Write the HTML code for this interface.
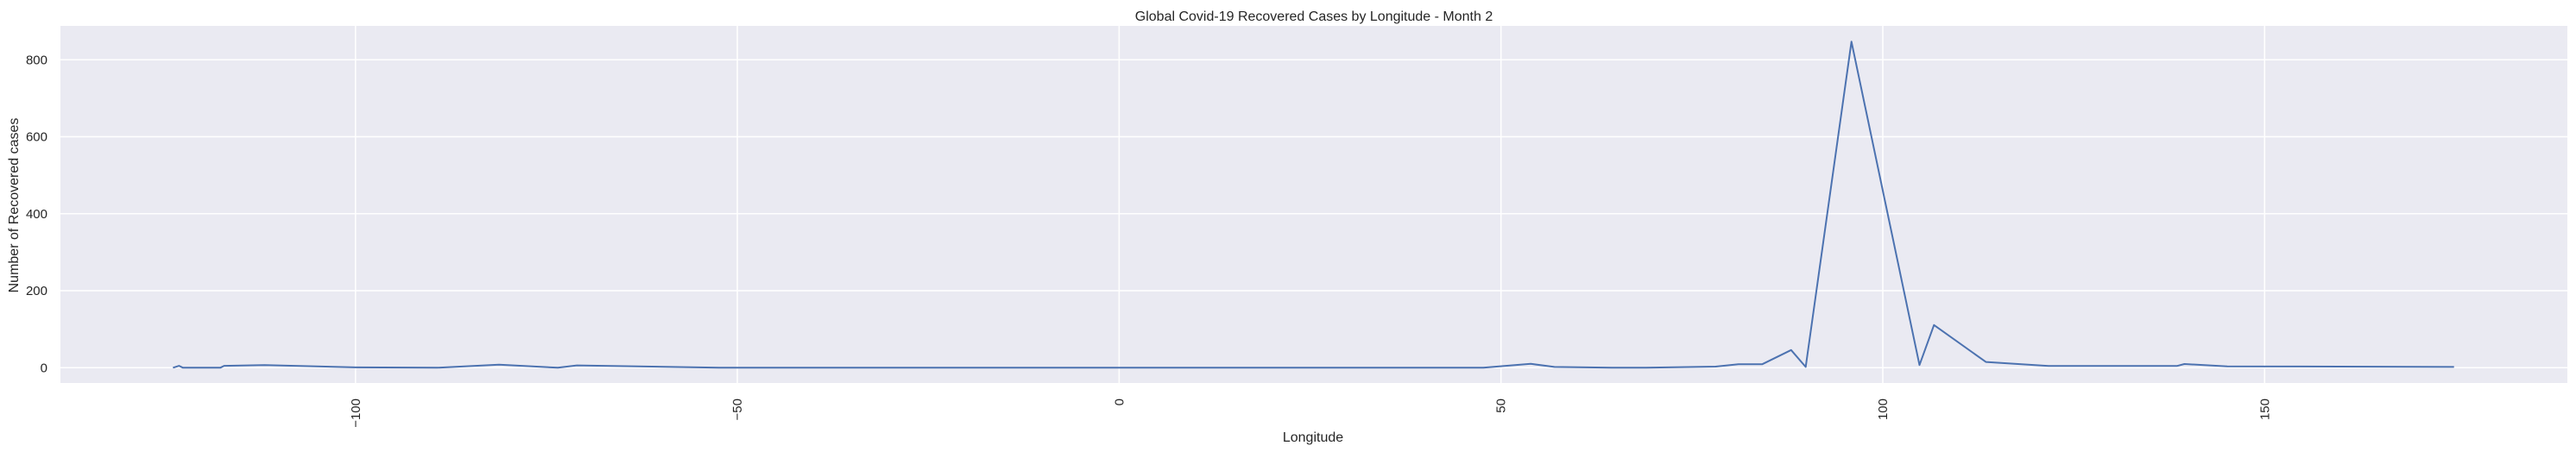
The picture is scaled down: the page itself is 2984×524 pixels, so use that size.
<!DOCTYPE html>
<html><head><meta charset="utf-8"><style>
html,body{margin:0;padding:0;background:#fff;}
svg{display:block;font-family:"Liberation Sans",Arial,sans-serif;}
</style></head><body>
<svg id="chart" width="2984" height="524" xmlns="http://www.w3.org/2000/svg">
<rect x="0" y="0" width="2984" height="524" fill="#ffffff"/>
<rect x="70" y="30" width="2904" height="414" fill="#eaeaf2"/>
<g id="grid"></g>
<g id="series"></g>
<g id="ticks"></g>
<text x="1522" y="24" text-anchor="middle" font-size="16" fill="#262626">Global Covid-19 Recovered Cases by Longitude - Month 2</text>
<text x="1521" y="512" text-anchor="middle" font-size="16" fill="#262626">Longitude</text>
<text transform="translate(21,238) rotate(-90)" text-anchor="middle" font-size="16" fill="#262626">Number of Recovered cases</text>
</svg>
<script>
const longitudes = [-123.9,-123.1,-122.6,-121.9,-117.7,-117.2,-111.9,-100,-89.3,-81.2,-73.5,-71,-52.4,47.7,53.9,57,64.5,69,78.1,81.1,84.2,88,89.9,95.9,104.8,106.7,113.5,121.7,138.5,139.5,145.1,174.8];
const recovered = [0,5,0,0,0,5,7,1,0,8,0,6,0,0,10,2,0,0,3,9,9,46,2,847,7,111,15,4.5,4.5,9.6,3.6,2];
const xTicks = [-100,-50,0,50,100,150];
const yTicks = [0,200,400,600,800];
const L=70,R=2974,T=30,B=444;
function xs(v){return 1296.4+8.846*v;}
function ys(v){return 426.3-0.4463*v;}
const NS="http://www.w3.org/2000/svg";
const grid=document.getElementById('grid'),ticks=document.getElementById('ticks'),series=document.getElementById('series');
xTicks.forEach(t=>{
  const l=document.createElementNS(NS,'line');
  l.setAttribute('x1',xs(t));l.setAttribute('x2',xs(t));l.setAttribute('y1',T);l.setAttribute('y2',B);
  l.setAttribute('stroke','#fff');l.setAttribute('stroke-width','1.5');
  
  
  grid.appendChild(l);
  const tx=document.createElementNS(NS,'text');
  tx.setAttribute('transform','translate('+(xs(t)+5)+',462) rotate(-90)');
  tx.setAttribute('text-anchor','end');tx.setAttribute('font-size','15');tx.setAttribute('fill','#262626');
  tx.textContent=t<0?'\u2212'+(-t):String(t);
  
  
  ticks.appendChild(tx);
});
yTicks.forEach(t=>{
  const l=document.createElementNS(NS,'line');
  l.setAttribute('x1',L);l.setAttribute('x2',R);l.setAttribute('y1',ys(t));l.setAttribute('y2',ys(t));
  l.setAttribute('stroke','#fff');l.setAttribute('stroke-width','1.5');
  
  
  grid.appendChild(l);
  const tx=document.createElementNS(NS,'text');
  tx.setAttribute('x',55);tx.setAttribute('y',ys(t)+5);
  tx.setAttribute('text-anchor','end');tx.setAttribute('font-size','15');tx.setAttribute('fill','#262626');
  tx.textContent=String(t);
  
  
  ticks.appendChild(tx);
});
const p=document.createElementNS(NS,'polyline');
p.setAttribute('points',longitudes.map((v,i)=>xs(v).toFixed(1)+','+ys(recovered[i]).toFixed(1)).join(' '));
p.setAttribute('fill','none');p.setAttribute('stroke','#4c72b0');p.setAttribute('stroke-width','2');p.setAttribute('stroke-linejoin','round');


series.appendChild(p);
</script>
</body></html>
